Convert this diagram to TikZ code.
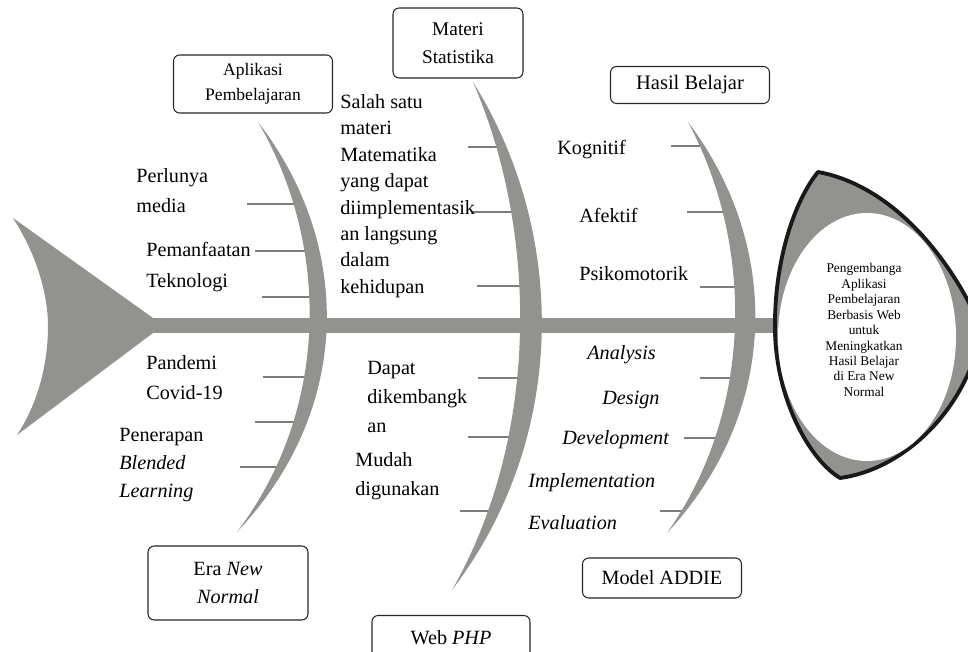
\documentclass[tikz,border=0pt]{standalone}
\usepackage{fontspec}
\setmainfont{Liberation Serif}
\usepackage{tikz}
\usetikzlibrary{positioning}
\definecolor{bonegray}{RGB}{146,147,142}
\definecolor{tickgray}{RGB}{125,125,125}

\begin{document}
\begin{tikzpicture}[
  x=0.02cm, y=-0.02cm,
  catbox/.style={rectangle, rounded corners=3.5pt, draw=black!85, fill=white,
    line width=0.6pt, align=center, inner sep=0pt,
    minimum width=3.18cm, font=\fontsize{11.5}{16}\selectfont},
  lbl/.style={align=left, anchor=west, inner sep=0pt,
    font=\fontsize{11.5}{17}\selectfont},
  itlbl/.style={lbl, font=\fontsize{11.5}{17}\selectfont\itshape},
  tick/.style={draw=tickgray, line width=0.6pt},
  bone/.style={fill=bonegray, draw=none},
  headtxt/.style={align=center, inner sep=0pt, font=\fontsize{7.6}{8.8}\selectfont}
]
\useasboundingbox (0,0) rectangle (968,652);

% Small ticks (drawn first, the bones cover their ends)
\foreach \i/\xa/\xb/\yy in {1/247/295/204, 2/255/305/251, 3/262/312/297,
    4/263/314/377, 5/255/296/422, 6/240/280/467,
    7/468/502/147, 8/472/515/212, 9/477/525/286,
    10/478/525/378, 11/468/515/437, 12/460/493/511,
    13/671/704/146, 14/687/728/212, 15/700/740/287,
    16/700/738/378, 17/684/722/438, 18/660/683/511} {
  \coordinate (t\i a) at (\xa,\yy);
  \coordinate (t\i b) at (\xb,\yy);
  \draw[tick] (t\i a) -- (t\i b);
}

% Tail and spine
\fill[bone] (13,218) -- (153,318) -- (153,333) -- (17,435)
  .. controls (40,400) and (48,360) .. (48,326)
  .. controls (48,300) and (40,260) .. (13,218) -- cycle;
\fill[bone] (150,318) rectangle (790,333);

% Ribs
\fill[bone] (258,122) .. controls (353,245) and (353,409) .. (237,532)
  .. controls (330,409) and (330,245) .. (258,122) -- cycle;
\fill[bone] (473,82) .. controls (568,234) and (568,438) .. (452,590)
  .. controls (539,438) and (539,234) .. (473,82) -- cycle;
\fill[bone] (688,122) .. controls (781,245) and (781,410) .. (667,533)
  .. controls (754,410) and (754,245) .. (688,122) -- cycle;

% Head
\filldraw[fill=bonegray, draw=black!90, line width=2.2pt, line join=round]
  (818,172) .. controls (795,200) and (774,260) .. (775,330)
  .. controls (776,400) and (810,460) .. (840,478)
  .. controls (900,470) and (965,415) .. (982,330)
  .. controls (950,255) and (890,185) .. (818,172) -- cycle;
\fill[white] (867,337) ellipse [x radius=89, y radius=124];
\node[headtxt] (head) at (864,330) {Pengembanga\\Aplikasi\\Pembelajaran\\Berbasis Web\\untuk\\Meningkatkan\\Hasil Belajar\\di Era New\\Normal};

% Category boxes
\node[catbox, minimum height=1.16cm, font=\fontsize{10}{14}\selectfont] (aplikasi) at (253,84) {Aplikasi\\Pembelajaran};
\node[catbox, minimum width=2.6cm, minimum height=1.4cm, font=\fontsize{11}{16}\selectfont] (materi) at (458,43) {Materi\\Statistika};
\node[catbox, minimum height=0.74cm, font=\fontsize{11.7}{16}\selectfont] (hasil) at (690,85) {Hasil Belajar};
\node[catbox, minimum width=3.2cm, minimum height=1.48cm] (era) at (228,583) {Era \textit{New}\\\textit{Normal}};
\node[catbox, minimum width=3.16cm, minimum height=0.9cm] (web) at (451,638) {Web \textit{PHP}};
\node[catbox, minimum height=0.8cm] (addie) at (662,578) {Model ADDIE};

% Cause labels
\node[lbl] (media) at (136,191) {Perlunya\\media};
\node[lbl, font=\fontsize{11.5}{18}\selectfont] (teknologi) at (146,267) {Pemanfaatan\\Teknologi};
\node[lbl] (pandemi) at (146,378) {Pandemi\\Covid-19};
\node[lbl, font=\fontsize{11.5}{16}\selectfont] (blended) at (119,465) {Penerapan\\\textit{Blended}\\\textit{Learning}};
\node[lbl, font=\fontsize{11.5}{15}\selectfont] (salah) at (340,196) {Salah satu\\materi\\Matematika\\yang dapat\\diimplementasik\\an langsung\\dalam\\kehidupan};
\node[lbl, font=\fontsize{11.5}{16.5}\selectfont] (dapat) at (367,397) {Dapat\\dikembangk\\an};
\node[lbl, font=\fontsize{11.5}{16.5}\selectfont] (mudah) at (355,476) {Mudah\\digunakan};
\node[lbl] (kognitif) at (557,150) {Kognitif};
\node[lbl] (afektif) at (579,215) {Afektif};
\node[lbl] (psiko) at (579,274) {Psikomotorik};
\node[itlbl] (analysis) at (587,355) {Analysis};
\node[itlbl] (design) at (602,400) {Design};
\node[itlbl] (develop) at (562,440) {Development};
\node[itlbl] (implement) at (528,483) {Implementation};
\node[itlbl] (evaluation) at (528,523) {Evaluation};

\end{tikzpicture}
\end{document}
